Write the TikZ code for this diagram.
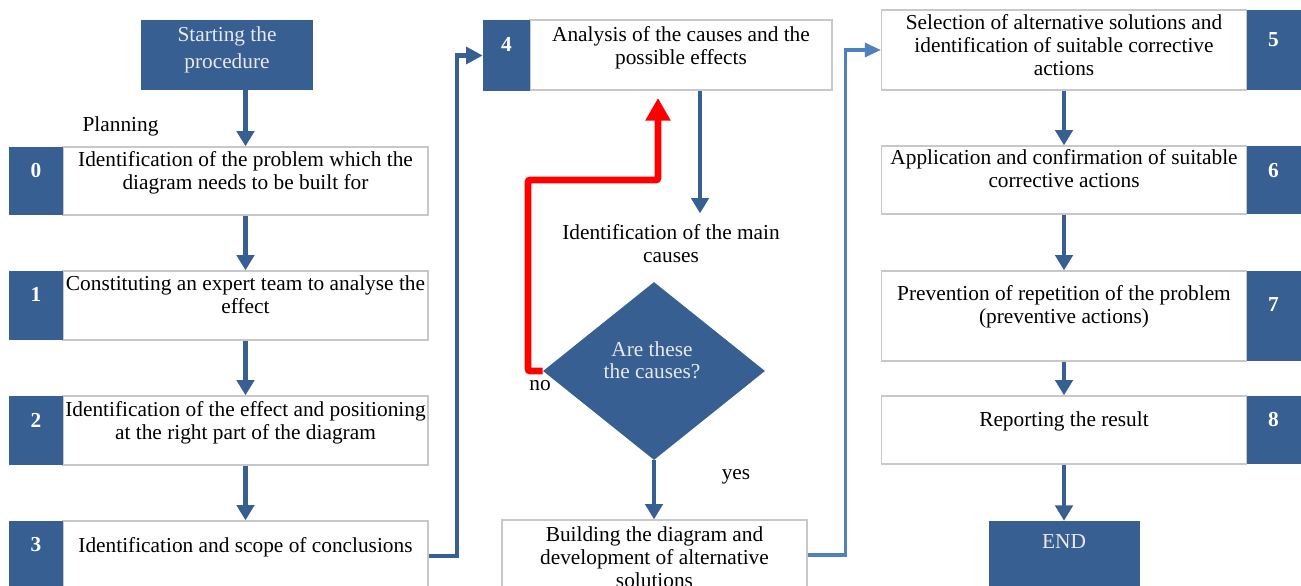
\documentclass[tikz,border=0pt]{standalone}
\usepackage{fontspec}
\setmainfont{Liberation Serif}
\usetikzlibrary{arrows.meta,shapes.geometric}

\definecolor{boxblue}{HTML}{375F92}
\definecolor{linkblue}{HTML}{4F81BD}
\definecolor{boxgray}{HTML}{C8C8C8}
\definecolor{palegray}{HTML}{E8E8E8}

\newcommand{\pxu}{0.75pt}
\newcommand{\stepfont}{\fontsize{16}{17.25}\selectfont}

\tikzstyle{stepbox}=[draw=boxgray,line width=1pt,fill=white,inner sep=0pt]
\tikzstyle{numbox}=[fill=boxblue,inner sep=0pt,minimum width={54*\pxu}]
\tikzstyle{darkbox}=[fill=boxblue,inner sep=0pt]
\tikzstyle{decision}=[diamond,fill=boxblue,inner sep=0pt,minimum width={222*\pxu},minimum height={178*\pxu}]
\tikzstyle{steptext}=[anchor=north,inner sep=0pt,align=center,font=\stepfont]
\tikzstyle{numtext}=[anchor=north,inner sep=0pt,text=white,font=\stepfont\bfseries]
\tikzstyle{lighttext}=[steptext,text=palegray]
\tikzstyle{remark}=[inner sep=0pt,font=\stepfont]
\tikzstyle{flow}=[draw=boxblue,line width=3.6pt,-{Triangle[width=13pt,length=11.5pt]}]
\tikzstyle{link}=[draw=boxblue,line width=3.2pt,-{Triangle[width=12.5pt,length=12.5pt]}]
\tikzstyle{lightlink}=[draw=linkblue,line width=2.4pt,-{Triangle[width=10.5pt,length=12pt]}]
\tikzstyle{redloop}=[draw=red,line width=5pt,rounded corners=1.5pt,-{Triangle[width=18pt,length=17pt]}]

\begin{document}
\begin{tikzpicture}[x=\pxu, y=-\pxu]
    \useasboundingbox (0,0) rectangle (1301,585);
    \clip (0,0) rectangle (1301,585);
    % First we draw the boxes of the steps
    \foreach \pos/\name/\h in {{(245.5,181)/s0/68}, {(245.5,305.5)/s1/69}, {(245.5,430.5)/s2/69}, {(245.5,556)/s3/70},
                               {(1064,50)/s5/80}, {(1064,180)/s6/68}, {(1064,316)/s7/90}, {(1064,430)/s8/68}}
        \node[stepbox, minimum width={365*\pxu}, minimum height={\h*\pxu}] (\name) at \pos {};
    \node[stepbox, minimum width={302*\pxu}, minimum height={70*\pxu}] (s4) at (681,55) {};
    \node[stepbox, minimum width={305*\pxu}, minimum height={70*\pxu}] (build) at (654.5,555) {};
    % the numbered tabs
    \foreach \pos/\name/\h in {{(36,181)/n0/68}, {(36,305.5)/n1/69}, {(36,430.5)/n2/69}, {(36,556)/n3/70},
                               {(1273.5,50)/n5/80}, {(1273.5,180)/n6/68}, {(1273.5,316)/n7/90}, {(1273.5,430)/n8/68}}
        \node[numbox, minimum height={\h*\pxu}] (\name) at \pos {};
    \node[numbox, minimum width={47*\pxu}, minimum height={71*\pxu}] (n4) at (506.5,55.5) {};
    % start, end and the question
    \node[darkbox, minimum width={172*\pxu}, minimum height={70*\pxu}] (start) at (227,55) {};
    \node[darkbox, minimum width={151*\pxu}, minimum height={70*\pxu}] (finish) at (1064,556) {};
    \node[decision] (check) at (654,371) {};
    \coordinate (bend) at (528,180);
    \coordinate (back) at (658,98);

    % Then the texts and numbers
    \foreach \name/\off/\txt in {s0/5/{Identification of the problem which the\\diagram needs to be built for},
                                 s1/5/{Constituting an expert team to analyse the\\effect},
                                 s2/6/{Identification of the effect and positioning\\at the right part of the diagram},
                                 s3/17/{Identification and scope of conclusions},
                                 s4/7/{Analysis of the causes and the\\possible effects},
                                 s5/5/{Selection of alternative solutions and\\identification of suitable corrective\\actions},
                                 s6/4/{Application and confirmation of suitable\\corrective actions},
                                 s7/15/{Prevention of repetition of the problem\\(preventive actions)},
                                 s8/16/{Reporting the result},
                                 build/7/{Building the diagram and\\development of alternative\\solutions}}
        \node[steptext] (t\name) at ([yshift={-\off*\pxu}]\name.north) {\txt};
    \foreach \name/\off/\num in {n0/16/0, n1/16/1, n2/17/2, n3/16/3, n4/17/4, n5/23/5, n6/17/6, n7/27/7, n8/16/8}
        \node[numtext] (t\name) at ([yshift={-\off*\pxu}]\name.north) {\num};
    \node[lighttext, font=\fontsize{16}{20.25}\selectfont] (tstart) at ([yshift={-7*\pxu}]start.north) {Starting the\\procedure};
    \node[lighttext] (tfinish) at ([yshift={-14*\pxu}]finish.north) {END};
    \node[lighttext, font=\fontsize{16}{16.5}\selectfont] (tcheck) at (652,341) {Are these\\the causes?};
    \node[steptext] (mainc) at (671,224) {Identification of the main\\causes};
    \node[remark] (plan) at (120.5,126) {Planning};
    \node[remark] (no) at (540,386) {no};
    \node[remark] (yes) at (736,477) {yes};

    % Connect the steps with arrows
    \draw[flow] (s0.north |- start.south) -- (s0.north);
    \foreach \source/\dest in {s0/s1, s1/s2, s2/s3, s5/s6, s6/s7, s7/s8, s8/finish}
        \draw[flow] (\source) -- (\dest);
    \draw[flow, shorten >=8pt] ([xshift={19*\pxu}]s4.south) -- ([xshift={19*\pxu}]s4.south |- mainc.north);
    \draw[flow] (check.south) -- (check.south |- build.north);
    \draw[link] (s3.east) -- ++(28,0) |- (n4.west);
    \draw[lightlink] (build.east) -- ++(38,0) |- (s5.west);
    \draw[redloop] (check.west) -| (bend) -| (back);
\end{tikzpicture}
\end{document}
